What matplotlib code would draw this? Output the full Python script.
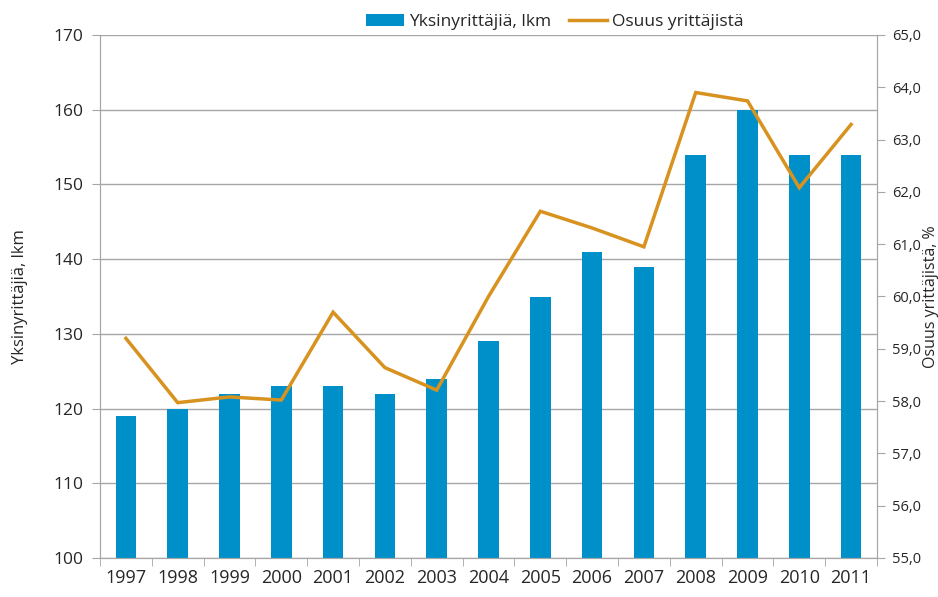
#!/usr/bin/env python3
"""Yksinyrittäjät 1997-2011: bars (lkm) + share line (%) on twin axis."""

import matplotlib

matplotlib.use("Agg")
import matplotlib.pyplot as plt
from matplotlib.patches import Patch
from matplotlib.lines import Line2D

years = ["1997", "1998", "1999", "2000", "2001", "2002", "2003", "2004",
         "2005", "2006", "2007", "2008", "2009", "2010", "2011"]
yksinyrittajia = [119, 120, 122, 123, 123, 122, 124, 129, 135, 141, 139, 154, 160, 154, 154]
osuus = [59.2, 57.97, 58.08, 58.02, 59.7, 58.64, 58.21, 60.0, 61.63, 61.31,
         60.95, 63.9, 63.74, 62.08, 63.29]
left_ticks = [100, 110, 120, 130, 140, 150, 160, 170]
right_ticks = [55, 56, 57, 58, 59, 60, 61, 62, 63, 64, 65]

BAR_C = "#0090c9"
LINE_C = "#d8921f"
GRID_C = "#a6a6a6"
TXT_C = "#262626"

plt.rcParams["font.family"] = ["Open Sans", "DejaVu Sans"]

fig = plt.figure(figsize=(9.38, 5.97), dpi=100)
ax = fig.add_axes([100 / 938, 1 - 558 / 597, 777 / 938, 523 / 597])
x = list(range(len(years)))

ax.bar(x, yksinyrittajia, width=0.4, color=BAR_C, zorder=2)
ax.set_ylim(100, 170)
ax.set_xlim(-0.5, len(years) - 0.5)
ax.set_yticks(left_ticks)
ax.set_yticklabels([str(t) for t in left_ticks], fontsize=12.5, color=TXT_C)
ax.yaxis.grid(True, color=GRID_C, linewidth=1.0, zorder=0)
ax.set_axisbelow(True)

# category labels at centres, tick marks at boundaries
ax.set_xticks(x)
ax.set_xticklabels(years, fontsize=13, color=TXT_C)
ax.tick_params(axis="x", length=0, pad=8)
ax.set_xticks([i - 0.5 for i in range(len(years) + 1)], minor=True)
ax.tick_params(axis="x", which="minor", length=6, color=GRID_C, direction="out")
ax.tick_params(axis="y", length=6, color=GRID_C, direction="out", pad=6)

ax.spines["top"].set_visible(False)
for s in ("left", "bottom", "right"):
    ax.spines[s].set_color(GRID_C)

ax.set_ylabel("Yksinyrittäjiä, lkm", fontsize=12, color=TXT_C, labelpad=18)

ax2 = ax.twinx()
ax2.plot(x, osuus, color=LINE_C, linewidth=2.5, zorder=3, solid_joinstyle="miter")
ax2.set_ylim(55, 65)
ax2.set_yticks(right_ticks)
ax2.set_yticklabels(["%d,0" % t for t in right_ticks], fontsize=10.5, color=TXT_C)
ax2.tick_params(axis="y", length=6, color=GRID_C, direction="out", pad=5)
ax2.spines["top"].set_visible(False)
for s in ("left", "bottom", "right"):
    ax2.spines[s].set_color(GRID_C)
ax2.set_ylabel("Osuus yrittäjistä, %", fontsize=11.5, color=TXT_C, labelpad=1)

handles = [Patch(facecolor=BAR_C, edgecolor="none"),
           Line2D([0], [0], color=LINE_C, linewidth=2.5)]
fig.legend(handles, ["Yksinyrittäjiä, lkm", "Osuus yrittäjistä"],
           loc="center", bbox_to_anchor=(555 / 938, 1 - 22 / 597), ncol=2,
           frameon=False, fontsize=12.5, handlelength=2.2, handletextpad=0.3,
           columnspacing=1.0, labelcolor=TXT_C)

fig.savefig("out.png", dpi=100)
